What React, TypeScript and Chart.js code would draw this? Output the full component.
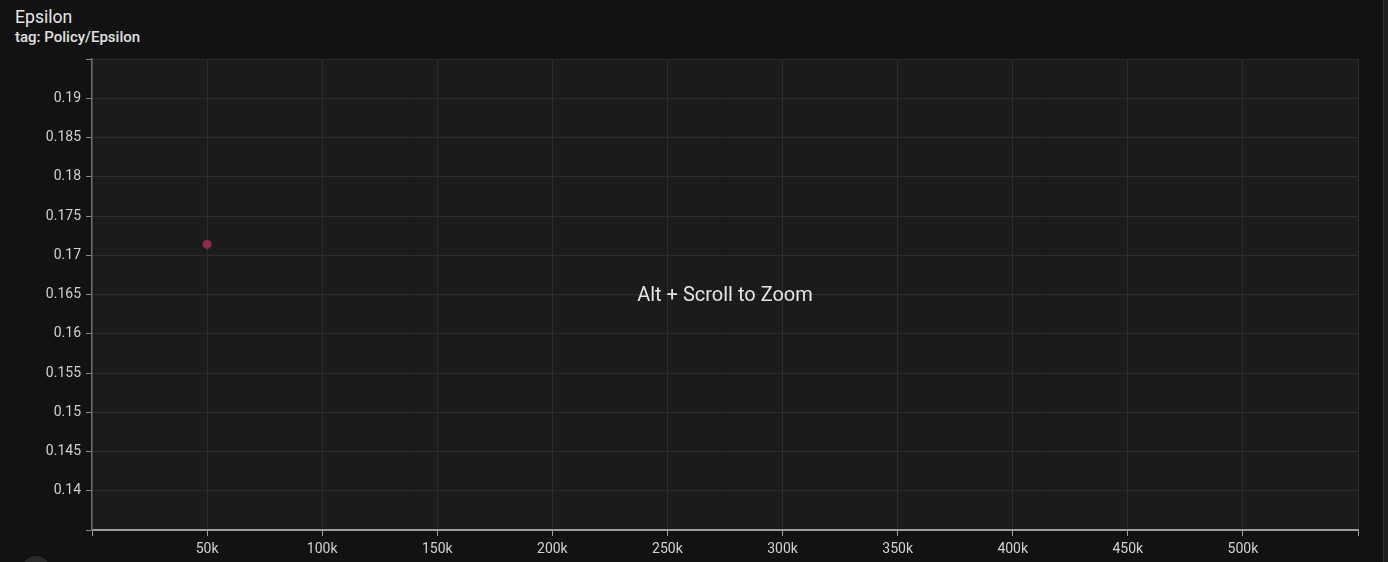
import React, { useEffect, useRef } from "react";
import { Chart, registerables } from "chart.js";

Chart.register(...registerables);

const stepValues = [50000];
const epsilonValues = [0.17138];
const xTickValues = [0, 50000, 100000, 150000, 200000, 250000, 300000, 350000, 400000, 450000, 500000, 550000];
const xTickLabels = ["", "50k", "100k", "150k", "200k", "250k", "300k", "350k", "400k", "450k", "500k", ""];
const yTickValues = [0.135, 0.14, 0.145, 0.15, 0.155, 0.16, 0.165, 0.17, 0.175, 0.18, 0.185, 0.19, 0.195];
const yTickLabels = ["", "0.14", "0.145", "0.15", "0.155", "0.16", "0.165", "0.17", "0.175", "0.18", "0.185", "0.19", ""];

const FONT = "Roboto, 'Noto Sans', sans-serif";

export default function App() {
  const ref = useRef<HTMLCanvasElement | null>(null);

  useEffect(() => {
    document.body.style.margin = "0";
    document.body.style.background = "#121212";
    const canvas = ref.current;
    if (!canvas) return;
    const plotBg = {
      id: "plotBg",
      beforeDraw(chart: any) {
        const { ctx, chartArea } = chart;
        ctx.save();
        ctx.fillStyle = "#1b1b1b";
        ctx.fillRect(chartArea.left, chartArea.top, chartArea.right - chartArea.left, chartArea.bottom - chartArea.top);
        ctx.restore();
      },
    };
    const chart = new Chart(canvas, {
      type: "scatter",
      data: {
        datasets: [
          {
            label: "Policy/Epsilon",
            data: stepValues.map((x, i) => ({ x, y: epsilonValues[i] })),
            backgroundColor: "#8c2a52",
            borderColor: "#8c2a52",
            pointRadius: 4.5,
            borderWidth: 0,
          },
        ],
      },
      options: {
        animation: false,
        responsive: false,
        maintainAspectRatio: false,
        layout: { padding: { top: 59, right: 25, left: 0, bottom: 0 } },
        plugins: { legend: { display: false }, tooltip: { enabled: false } },
        scales: {
          x: {
            type: "linear",
            min: xTickValues[0],
            max: xTickValues[xTickValues.length - 1],
            afterBuildTicks: (scale: any) => {
              scale.ticks = xTickValues.map((v) => ({ value: v }));
            },
            afterFit: (scale: any) => {
              scale.height = 32;
            },
            ticks: {
              autoSkip: false,
              maxRotation: 0,
              color: "#d2d2d2",
              font: { family: FONT, size: 14 },
              padding: 5,
              callback: (v: any) => {
                const i = xTickValues.indexOf(Number(v));
                return i >= 0 ? xTickLabels[i] : "";
              },
            },
            grid: { color: "#2d2d2d", tickColor: "#a0a0a0", tickLength: 6, lineWidth: 1 },
            border: { color: "#9c9c9c", width: 2 },
          },
          y: {
            type: "linear",
            min: yTickValues[0],
            max: yTickValues[yTickValues.length - 1],
            afterBuildTicks: (scale: any) => {
              scale.ticks = yTickValues.map((v) => ({ value: v }));
            },
            afterFit: (scale: any) => {
              scale.width = 92;
            },
            ticks: {
              autoSkip: false,
              color: "#d2d2d2",
              font: { family: FONT, size: 14 },
              padding: 5,
              callback: (v: any) => {
                const i = yTickValues.findIndex((t) => Math.abs(t - Number(v)) < 1e-9);
                return i >= 0 ? yTickLabels[i] : "";
              },
            },
            grid: { color: "#2d2d2d", tickColor: "#8a8a8a", tickLength: 6, lineWidth: 1 },
            border: { color: "#6a6a6a", width: 1.5 },
          },
        },
      },
      plugins: [plotBg],
    } as any);
    return () => chart.destroy();
  }, []);

  return (
    <div
      style={{
        position: "fixed",
        left: 0,
        top: 0,
        width: 1388,
        height: 562,
        background: "#121212",
        overflow: "hidden",
        fontFamily: FONT,
      }}
    >
      <div style={{ position: "absolute", left: 15, top: 7, fontSize: 17.6, color: "#e6e6e6" }}>Epsilon</div>
      <div style={{ position: "absolute", left: 15, top: 28, fontSize: 15, fontWeight: 500, color: "#e0e0e0" }}>
        tag: Policy/Epsilon
      </div>
      <canvas ref={ref} width={1383} height={562} style={{ position: "absolute", left: 0, top: 0 }} />
      <div
        style={{
          position: "absolute",
          left: 525,
          width: 400,
          top: 282,
          textAlign: "center",
          fontSize: 20,
          color: "#e4e4e4",
          pointerEvents: "none",
        }}
      >
        Alt + Scroll to Zoom
      </div>
      <div style={{ position: "absolute", left: 1383, top: 0, width: 5, height: 562, background: "#1e1e1e", borderLeft: "1px solid #333" }} />
      <div style={{ position: "absolute", left: 22, top: 556, width: 28, height: 28, borderRadius: 14, background: "#2a2a2a" }} />
    </div>
  );
}
